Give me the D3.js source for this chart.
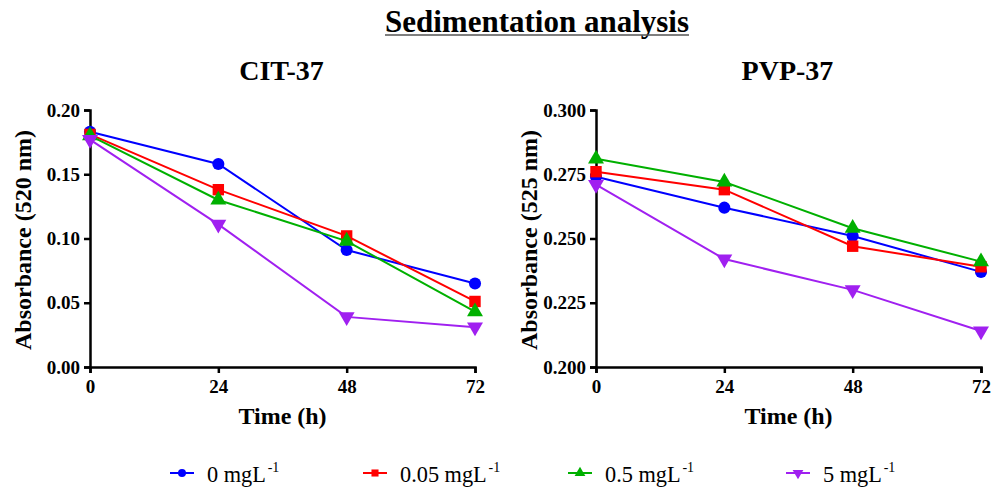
<!DOCTYPE html>
<html>
<head>
<meta charset="utf-8">
<script src="https://cdn.jsdelivr.net/npm/d3@7"></script>
<style>
  body { margin: 0; background: #fff; }
</style>
</head>
<body>
<script>
// data
const hours = [0, 24, 48, 72];
const series = ["0 mgL", "0.05 mgL", "0.5 mgL", "5 mgL"];
const colors = ["#0000ff", "#ff0000", "#00b000", "#a020f0"];
const shapes = [d3.symbolCircle, d3.symbolSquare, d3.symbolTriangle, "down"];

const citValues = [
  [0.183, 0.158, 0.091, 0.065],
  [0.181, 0.138, 0.102, 0.051],
  [0.180, 0.130, 0.098, 0.043],
  [0.177, 0.111, 0.039, 0.031]
];
const pvpValues = [
  [0.274, 0.262, 0.251, 0.237],
  [0.276, 0.269, 0.247, 0.239],
  [0.281, 0.272, 0.254, 0.241],
  [0.271, 0.242, 0.230, 0.214]
];
const citTicks = [0, 0.05, 0.10, 0.15, 0.20];
const pvpTicks = [0.200, 0.225, 0.250, 0.275, 0.300];

const FONT = '"Liberation Serif", "Times New Roman", serif';

const svg = d3.select("body").append("svg")
  .attr("width", 991)
  .attr("height", 488);

// main title, underlined
const title = svg.append("text")
  .attr("x", 537).attr("y", 32)
  .attr("text-anchor", "middle")
  .style("font-family", FONT)
  .style("font-size", "31px").style("font-weight", "bold")
  .text("Sedimentation analysis");
const tb = title.node().getBBox();
svg.append("line")
  .attr("x1", tb.x).attr("x2", tb.x + tb.width)
  .attr("y1", 35).attr("y2", 35)
  .attr("stroke", "#555").attr("stroke-width", 1.3);

function marker(shape, size) {
  const t = shape === "down" ? d3.symbolTriangle : shape;
  return d3.symbol().type(t).size(size)();
}

function panel(x0, x1, name, values, ticks, fmt, ylab, labX) {
  const x = d3.scaleLinear().domain([0, 72]).range([x0, x1]);
  const y = d3.scaleLinear().domain([ticks[0], ticks[ticks.length - 1]]).range([367, 110]);
  const g = svg.append("g");
  const cx = (x0 + x1) / 2;

  g.append("text")
    .attr("x", cx - 1).attr("y", 80)
    .attr("text-anchor", "middle")
    .style("font-family", FONT)
    .style("font-size", "28px").style("font-weight", "bold")
    .text(name);

  const ya = g.append("g")
    .attr("transform", `translate(${x0},0)`)
    .call(d3.axisLeft(y).tickValues(ticks).tickFormat(d3.format(fmt)).tickSize(6).tickPadding(4));
  const xa = g.append("g")
    .attr("transform", `translate(0,367)`)
    .call(d3.axisBottom(x).tickValues(hours).tickSize(6).tickPadding(7));
  [ya, xa].forEach(a => {
    a.select(".domain").attr("stroke-width", 2.5);
    a.selectAll(".tick line").attr("stroke-width", 2.5);
    a.selectAll("text")
      .style("font-family", FONT)
      .style("font-size", "19px").style("font-weight", "bold").attr("fill", "#000");
  });

  g.append("text")
    .attr("x", cx).attr("y", 424)
    .attr("text-anchor", "middle")
    .style("font-family", FONT)
    .style("font-size", "24px").style("font-weight", "bold")
    .text("Time (h)");

  g.append("text")
    .attr("transform", `translate(${labX},240) rotate(-90)`)
    .attr("text-anchor", "middle")
    .style("font-family", FONT)
    .style("font-size", "24px").style("font-weight", "bold")
    .text(ylab);

  const line = d3.line().x((d, i) => x(hours[i])).y(d => y(d));
  values.forEach((vals, s) => {
    g.append("path")
      .attr("d", line(vals))
      .attr("fill", "none")
      .attr("stroke", colors[s])
      .attr("stroke-width", 2);
    g.selectAll(null).data(vals).enter().append("path")
      .attr("d", marker(shapes[s], s === 0 ? 115 : s === 1 ? 130 : 110))
      .attr("transform", (d, i) => `translate(${x(hours[i])},${y(d)})` + (shapes[s] === "down" ? " rotate(180)" : ""))
      .attr("fill", colors[s]);
  });
}

panel(90, 475, "CIT-37", citValues, citTicks, ".2f", "Absorbance (520 nm)", 31);
panel(596, 981, "PVP-37", pvpValues, pvpTicks, ".3f", "Absorbance (525 nm)", 537);

// legend
const legendX = [170, 363, 568, 786];
series.forEach((s, i) => {
  const lg = svg.append("g").attr("transform", `translate(${legendX[i]},473)`);
  lg.append("line").attr("x1", 0).attr("x2", 24)
    .attr("stroke", colors[i]).attr("stroke-width", 2);
  lg.append("path")
    .attr("d", marker(shapes[i], 50))
    .attr("transform", "translate(12,0)" + (shapes[i] === "down" ? " rotate(180)" : ""))
    .attr("fill", colors[i]);
  const t = lg.append("text")
    .attr("transform", "translate(37,9) scale(0.93,1)")
    .style("font-family", FONT)
    .style("font-size", "24px")
    .text(s);
  t.append("tspan").attr("dy", -10).attr("dx", 2).style("font-size", "15px").text("-1");
});
</script>
</body>
</html>
